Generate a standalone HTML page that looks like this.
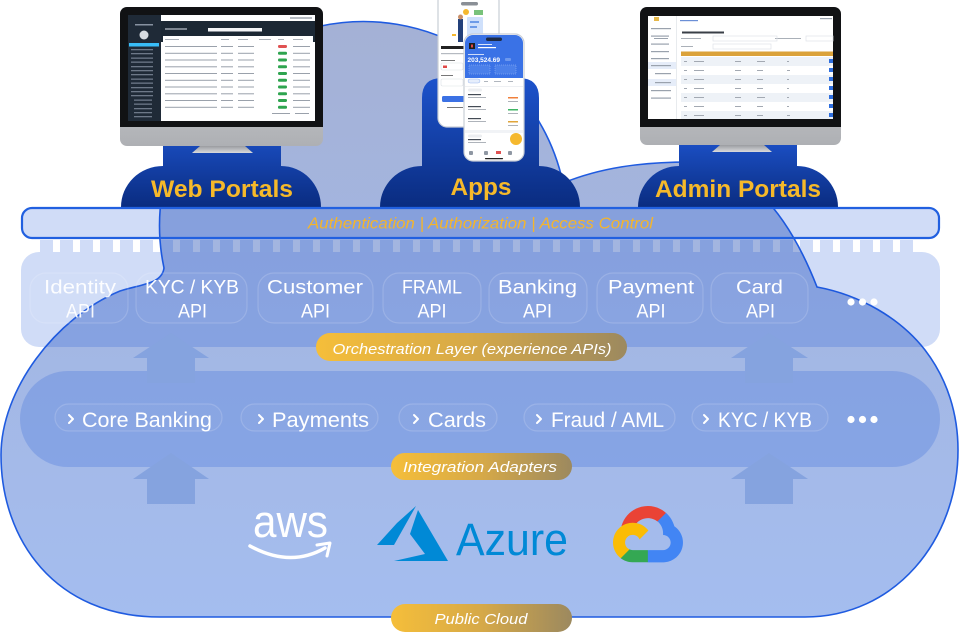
<!DOCTYPE html>
<html><head><meta charset="utf-8">
<style>
html,body{margin:0;padding:0;background:#fff;}
svg{display:block;}
text{font-family:"Liberation Sans",sans-serif;}
</style></head><body>
<svg width="960" height="632" viewBox="0 0 960 632" xmlns="http://www.w3.org/2000/svg">
<defs>
 <linearGradient id="cloudG" x1="0" y1="0" x2="0" y2="1">
  <stop offset="0" stop-color="#a4b1d5"/>
  <stop offset="0.45" stop-color="#a3b6e2"/>
  <stop offset="1" stop-color="#a4bdef"/>
 </linearGradient>
 <linearGradient id="navy" x1="0" y1="0" x2="0" y2="1">
  <stop offset="0" stop-color="#1d53cc"/>
  <stop offset="1" stop-color="#0a2c80"/>
 </linearGradient>
 <linearGradient id="gold" x1="0" y1="0" x2="1" y2="0">
  <stop offset="0" stop-color="#f5be3a"/>
  <stop offset="0.5" stop-color="#d6a948"/>
  <stop offset="1" stop-color="#9c895f"/>
 </linearGradient>
 <linearGradient id="chin" x1="0" y1="0" x2="0" y2="1">
  <stop offset="0" stop-color="#dcdde0"/>
  <stop offset="1" stop-color="#aeb0b4"/>
 </linearGradient>
 <linearGradient id="stand" x1="0" y1="0" x2="0" y2="1">
  <stop offset="0" stop-color="#9a9ca0"/>
  <stop offset="1" stop-color="#d8d9dc"/>
 </linearGradient>
 <pattern id="dash" x="40" y="0" width="20" height="20" patternUnits="userSpaceOnUse">
  <rect x="0" y="0" width="13" height="20" fill="rgb(20,80,215)" fill-opacity="0.2"/>
 </pattern>
</defs>

<!-- big cloud -->
<path d="M164,268 A202,202 0 0 1 563,183 C600,168 640,162 690,162 C740,162 785,205 817,287 C860,295 900,318 925,350 C948,380 958,415 958,450 C958,540 895,617 805,617 L160,617 C55,617 1,540 1,455 C1,390 55,318 120,291 C142,284 162,284 164,268 Z" fill="url(#cloudG)" stroke="#1f5be0" stroke-width="1.6"/>

<!-- dark clouds -->
<path d="M121,207 A42,41 0 0 1 163,166 L163,125 L281,125 L281,166 A40,41 0 0 1 321,207 Z" fill="url(#navy)"/>
<path d="M380,207 A42,41 0 0 1 422,166 L422,98 Q422,78 442,78 L519,78 Q539,78 539,98 L539,166 A41,41 0 0 1 580,207 Z" fill="url(#navy)"/>
<path d="M638,207 A41,41 0 0 1 679,166 L679,135 L797,135 L797,166 A41,41 0 0 1 838,207 Z" fill="url(#navy)"/>

<text x="222" y="197" font-size="24.5" font-weight="bold" fill="#f6b92a" text-anchor="middle" textLength="142" lengthAdjust="spacingAndGlyphs">Web Portals</text>
<text x="481" y="195" font-size="24.5" font-weight="bold" fill="#f6b92a" text-anchor="middle" textLength="61" lengthAdjust="spacingAndGlyphs">Apps</text>
<text x="738" y="197" font-size="24.5" font-weight="bold" fill="#f6b92a" text-anchor="middle" textLength="166" lengthAdjust="spacingAndGlyphs">Admin Portals</text>

<!-- Web monitor -->
<rect x="120" y="7" width="203" height="139" rx="7" fill="url(#chin)"/>
<path d="M127,7 H316 A7,7 0 0 1 323,14 V127 H120 V14 A7,7 0 0 1 127,7 Z" fill="#111214"/>
<polygon points="200,146 245,146 253,153 192,153" fill="url(#stand)"/>
<rect x="128" y="15" width="187" height="106" fill="#fff"/>
<rect x="128" y="15" width="33" height="106" fill="#1f2a37"/>
<rect x="161" y="21" width="154" height="21" fill="#1c2834"/>
<rect x="290" y="17" width="22" height="2" fill="#b8bcc2"/>
<rect x="165" y="28" width="22" height="2" fill="#7d8691"/>
<rect x="208" y="28" width="54" height="3.5" fill="#f4f5f7"/>
<rect x="163" y="36" width="150" height="84" fill="#fff"/>
<circle cx="144" cy="35" r="4.5" fill="#d8dce2"/>
<rect x="135" y="24" width="18" height="1.5" fill="#8791a0"/>
<rect x="129" y="43" width="30" height="3.5" fill="#38bdf8"/>
<g fill="#6d7888">
 <rect x="131" y="49" width="22" height="1.3"/><rect x="131" y="53" width="22" height="1.3"/>
 <rect x="131" y="57.5" width="22" height="1.3"/><rect x="131" y="61.5" width="22" height="1.3"/>
 <rect x="131" y="66" width="22" height="1.3"/><rect x="131" y="70" width="22" height="1.3"/>
 <rect x="131" y="74" width="22" height="1.3"/><rect x="131" y="78.5" width="22" height="1.3"/>
 <rect x="131" y="82.5" width="22" height="1.3"/><rect x="131" y="87" width="22" height="1.3"/>
 <rect x="131" y="91" width="22" height="1.3"/><rect x="131" y="95" width="22" height="1.3"/>
 <rect x="134" y="99.5" width="18" height="1.3"/><rect x="134" y="103.5" width="18" height="1.3"/>
 <rect x="134" y="108" width="18" height="1.3"/><rect x="134" y="112" width="18" height="1.3"/>
 <rect x="134" y="116" width="18" height="1.3"/>
</g>
<g fill="#aab0b8">
 <rect x="165" y="39" width="14" height="1"/><rect x="221" y="39" width="8" height="1"/><rect x="238" y="39" width="10" height="1"/><rect x="259" y="39" width="12" height="1"/><rect x="278" y="39" width="6" height="1"/><rect x="293" y="39" width="10" height="1"/>
</g>
<g fill="#9aa1ab">
 <rect x="165" y="46" width="52" height="1"/><rect x="165" y="52.8" width="52" height="1"/><rect x="165" y="59.5" width="52" height="1"/><rect x="165" y="66.3" width="52" height="1"/><rect x="165" y="73" width="52" height="1"/><rect x="165" y="79.8" width="52" height="1"/><rect x="165" y="86.5" width="52" height="1"/><rect x="165" y="93.3" width="52" height="1"/><rect x="165" y="100" width="52" height="1"/><rect x="165" y="106.8" width="52" height="1"/>
 <rect x="221" y="46" width="12" height="1"/><rect x="221" y="52.8" width="12" height="1"/><rect x="221" y="59.5" width="12" height="1"/><rect x="221" y="66.3" width="12" height="1"/><rect x="221" y="73" width="12" height="1"/><rect x="221" y="79.8" width="12" height="1"/><rect x="221" y="86.5" width="12" height="1"/><rect x="221" y="93.3" width="12" height="1"/><rect x="221" y="100" width="12" height="1"/><rect x="221" y="106.8" width="12" height="1"/>
 <rect x="238" y="46" width="16" height="1"/><rect x="238" y="52.8" width="16" height="1"/><rect x="238" y="59.5" width="16" height="1"/><rect x="238" y="66.3" width="16" height="1"/><rect x="238" y="73" width="16" height="1"/><rect x="238" y="79.8" width="16" height="1"/><rect x="238" y="86.5" width="16" height="1"/><rect x="238" y="93.3" width="16" height="1"/><rect x="238" y="100" width="16" height="1"/><rect x="238" y="106.8" width="16" height="1"/>
 <rect x="293" y="46" width="17" height="1"/><rect x="293" y="52.8" width="17" height="1"/><rect x="293" y="59.5" width="17" height="1"/><rect x="293" y="66.3" width="17" height="1"/><rect x="293" y="73" width="17" height="1"/><rect x="293" y="79.8" width="17" height="1"/><rect x="293" y="86.5" width="17" height="1"/><rect x="293" y="93.3" width="17" height="1"/><rect x="293" y="100" width="17" height="1"/><rect x="293" y="106.8" width="17" height="1"/>
 <rect x="272" y="113" width="18" height="1"/><rect x="295" y="113" width="14" height="1"/>
</g>
<rect x="278" y="45" width="9" height="3" rx="1.2" fill="#e05252"/>
<g fill="#2ea44f">
 <rect x="278" y="51.8" width="9" height="3" rx="1.2"/><rect x="278" y="58.5" width="9" height="3" rx="1.2"/><rect x="278" y="65.3" width="9" height="3" rx="1.2"/><rect x="278" y="72" width="9" height="3" rx="1.2"/><rect x="278" y="78.8" width="9" height="3" rx="1.2"/><rect x="278" y="85.5" width="9" height="3" rx="1.2"/><rect x="278" y="92.3" width="9" height="3" rx="1.2"/><rect x="278" y="99" width="9" height="3" rx="1.2"/><rect x="278" y="105.8" width="9" height="3" rx="1.2"/>
</g>

<!-- Admin monitor -->
<rect x="640" y="7" width="201" height="138" rx="7" fill="url(#chin)"/>
<path d="M647,7 H834 A7,7 0 0 1 841,14 V127 H640 V14 A7,7 0 0 1 647,7 Z" fill="#111214"/>
<polygon points="720,145 764,145 772,152 712,152" fill="url(#stand)"/>
<rect x="648" y="16" width="185" height="103" fill="#fff"/>
<rect x="676" y="16" width="0.8" height="103" fill="#e3e6ea"/>
<rect x="654" y="17" width="5" height="4" fill="#e6b84a"/>
<rect x="648" y="62" width="28" height="7" fill="#e6edf9"/>
<rect x="648" y="79" width="28" height="7" fill="#e6edf9"/>
<g fill="#9aa2ad">
 <rect x="651" y="28" width="20" height="1.2"/><rect x="651" y="35.5" width="18" height="1.2"/><rect x="654" y="38" width="14" height="1"/>
 <rect x="651" y="43.5" width="18" height="1.2"/><rect x="651" y="51" width="18" height="1.2"/><rect x="651" y="58" width="18" height="1.2"/>
 <rect x="651" y="65" width="20" height="1.2"/><rect x="655" y="73" width="16" height="1.2"/><rect x="655" y="82" width="16" height="1.2"/>
 <rect x="651" y="90" width="20" height="1.2"/><rect x="651" y="97.5" width="20" height="1.2"/>
</g>
<rect x="680" y="20" width="18" height="1.2" fill="#6b8fd6"/>
<rect x="820" y="18" width="12" height="1.2" fill="#9aa2ad"/>
<rect x="682" y="31.5" width="42" height="2" fill="#3a3f47"/>
<g fill="#aab0b8">
 <rect x="681" y="38" width="20" height="1"/><rect x="681" y="46" width="12" height="1"/><rect x="775" y="38" width="26" height="1"/>
</g>
<g fill="none" stroke="#dfe3e8" stroke-width="0.7">
 <rect x="713" y="36" width="64" height="5"/><rect x="713" y="44" width="58" height="5"/><rect x="806" y="36" width="27" height="5"/>
</g>
<rect x="681" y="51.5" width="152" height="4.5" fill="#dba23a"/>
<g fill="#eef2f7">
 <rect x="681" y="57" width="152" height="9"/><rect x="681" y="75" width="152" height="9"/><rect x="681" y="93" width="152" height="9"/><rect x="681" y="111" width="152" height="8"/>
</g>
<g fill="#a3a9b2">
 <rect x="684" y="61" width="3" height="1"/><rect x="694" y="61" width="10" height="1"/><rect x="735" y="61" width="6" height="1"/><rect x="757" y="61" width="8" height="1"/><rect x="787" y="61" width="2" height="1"/>
 <rect x="684" y="70" width="3" height="1"/><rect x="694" y="70" width="10" height="1"/><rect x="735" y="70" width="6" height="1"/><rect x="757" y="70" width="6" height="1"/><rect x="787" y="70" width="3" height="1"/>
 <rect x="684" y="79" width="3" height="1"/><rect x="694" y="79" width="10" height="1"/><rect x="735" y="79" width="6" height="1"/><rect x="757" y="79" width="6" height="1"/><rect x="787" y="79" width="2" height="1"/>
 <rect x="684" y="88" width="3" height="1"/><rect x="694" y="88" width="10" height="1"/><rect x="735" y="88" width="6" height="1"/><rect x="757" y="88" width="6" height="1"/><rect x="787" y="88" width="2" height="1"/>
 <rect x="684" y="97" width="3" height="1"/><rect x="694" y="97" width="10" height="1"/><rect x="735" y="97" width="6" height="1"/><rect x="757" y="97" width="8" height="1"/><rect x="787" y="97" width="2" height="1"/>
 <rect x="684" y="106" width="3" height="1"/><rect x="694" y="106" width="10" height="1"/><rect x="735" y="106" width="6" height="1"/><rect x="757" y="106" width="6" height="1"/><rect x="787" y="106" width="2" height="1"/>
 <rect x="684" y="115" width="3" height="1"/><rect x="694" y="115" width="10" height="1"/><rect x="735" y="115" width="6" height="1"/><rect x="757" y="115" width="6" height="1"/><rect x="787" y="115" width="3" height="1"/>
</g>
<g fill="#2f6fdf">
 <rect x="829" y="59" width="4" height="4"/><rect x="829" y="68" width="4" height="4"/><rect x="829" y="77" width="4" height="4"/><rect x="829" y="86" width="4" height="4"/><rect x="829" y="95" width="4" height="4"/><rect x="829" y="104" width="4" height="4"/><rect x="829" y="113" width="4" height="4"/>
</g>

<!-- Back phone -->
<rect x="438" y="-8" width="61" height="135" rx="9" fill="#fff" stroke="#c9ced6" stroke-width="1.2"/>
<rect x="461" y="2" width="17" height="3.5" rx="1.7" fill="#8a8f96"/>
<circle cx="466" cy="12" r="3" fill="#f5b82e"/>
<rect x="474" y="10" width="9" height="5" fill="#78c27a"/>
<rect x="467" y="17" width="16" height="19" rx="1" fill="#cfe0fb"/>
<rect x="470" y="21" width="9" height="2" fill="#6d9be8"/>
<rect x="470" y="26" width="7" height="2" fill="#6d9be8"/>
<rect x="458" y="19" width="5" height="23" fill="#23407a"/>
<circle cx="460.5" cy="17" r="2.5" fill="#c98f68"/>
<rect x="452" y="34" width="4" height="2" fill="#f5b82e"/>
<rect x="441" y="46" width="24" height="3" fill="#222"/>
<rect x="441" y="53" width="28" height="1.2" fill="#b5bac1"/>
<rect x="441" y="60" width="14" height="1" fill="#777"/>
<rect x="441" y="63" width="22" height="7" rx="1.5" fill="#fff" stroke="#dde1e6" stroke-width="0.6"/>
<rect x="443" y="65.5" width="4" height="2.5" fill="#e04848"/>
<rect x="441" y="75" width="12" height="1" fill="#777"/>
<rect x="441" y="79" width="22" height="7" rx="1.5" fill="#fff" stroke="#dde1e6" stroke-width="0.6"/>
<rect x="442" y="96" width="55" height="6" rx="1.5" fill="#3b71e4"/>
<rect x="447" y="107" width="16" height="1" fill="#777"/>

<!-- Front phone -->
<rect x="464" y="34" width="60" height="127" rx="9" fill="#fff" stroke="#c9ced6" stroke-width="1.2"/>
<path d="M473,35 H515 A8,8 0 0 1 523,43 V80 H465 V43 A8,8 0 0 1 473,35 Z" fill="#3a72e6"/>
<rect x="486" y="37.5" width="16" height="3.5" rx="1.7" fill="#1d2a44"/>
<rect x="469" y="43" width="6" height="6" fill="#1d1d1d"/>
<rect x="471" y="44.5" width="2" height="3" fill="#e04848"/>
<rect x="478" y="44" width="14" height="1" fill="#dbe6fb"/>
<rect x="478" y="47" width="18" height="1.2" fill="#fff"/>
<rect x="468" y="54" width="16" height="1" fill="#cfdcf8"/>
<text x="467.5" y="62" font-size="6.5" font-weight="bold" fill="#fff">203,524.69</text>
<rect x="505" y="58" width="6" height="3" rx="1" fill="#6d98ee"/>
<rect x="469" y="65" width="21" height="9" fill="#4b80ea" stroke="#9fbcf5" stroke-width="0.5" stroke-dasharray="1,1"/>
<rect x="495" y="65" width="21" height="9" fill="#4b80ea" stroke="#9fbcf5" stroke-width="0.5" stroke-dasharray="1,1"/>
<rect x="465" y="78" width="58" height="7" fill="#fff"/>
<rect x="468" y="79" width="12" height="4" rx="2" fill="#e6eefc" stroke="#9ab7f0" stroke-width="0.5"/>
<g fill="#b0b6be"><rect x="484" y="81" width="4" height="1"/><rect x="494" y="81" width="7" height="1"/><rect x="508" y="81" width="5" height="1"/></g>
<rect x="465" y="86" width="58" height="1" fill="#eef0f3"/>
<rect x="468" y="88.5" width="14" height="3" rx="1.5" fill="#eceef1"/>
<g fill="#444b55">
 <rect x="468" y="94" width="13" height="1.2"/><rect x="468" y="106" width="13" height="1.2"/><rect x="468" y="118" width="13" height="1.2"/><rect x="468" y="139" width="13" height="1.2"/>
</g>
<g fill="#a5abb3">
 <rect x="468" y="97" width="18" height="0.9"/><rect x="468" y="109" width="18" height="0.9"/><rect x="468" y="121" width="18" height="0.9"/><rect x="468" y="142" width="18" height="0.9"/>
 <rect x="508" y="101" width="10" height="0.9"/><rect x="508" y="113" width="10" height="0.9"/><rect x="508" y="125" width="10" height="0.9"/>
</g>
<rect x="508" y="97" width="10" height="1.5" fill="#f0803c"/>
<rect x="508" y="109" width="10" height="1.5" fill="#3fb565"/>
<rect x="508" y="121" width="10" height="1.5" fill="#e0a53a"/>
<rect x="465" y="130" width="58" height="3" fill="#f1f3f6"/>
<rect x="468" y="134.5" width="14" height="3" rx="1.5" fill="#eceef1"/>
<circle cx="516" cy="139" r="6" fill="#f5b82e"/>
<g fill="#8f97a3"><rect x="469" y="151" width="4" height="4" rx="1"/><rect x="484" y="151" width="4" height="4" rx="1"/><rect x="508" y="151" width="4" height="4" rx="1"/></g>
<rect x="496" y="151" width="5" height="3" fill="#e05252"/>
<rect x="485" y="158" width="18" height="1.2" rx="0.6" fill="#222"/>

<!-- auth bar -->
<rect x="22" y="208" width="917" height="30" rx="10" fill="rgb(20,80,215)" fill-opacity="0.2" stroke="#2160e0" stroke-width="2.2"/>
<text x="308" y="228.5" font-size="16" font-style="italic" fill="#f4b52c" textLength="345" lengthAdjust="spacingAndGlyphs">Authentication | Authorization | Access Control</text>

<!-- dashed strip -->
<rect x="40" y="240" width="880" height="12" fill="url(#dash)"/>

<!-- API panel -->
<rect x="21" y="252" width="919" height="95" rx="18" fill="rgb(20,80,215)" fill-opacity="0.2"/>

<!-- Adapter panel -->
<rect x="20" y="371" width="920" height="96" rx="48" fill="rgb(20,80,215)" fill-opacity="0.2"/>

<!-- arrows -->
<g fill="#85a3df">
 <polygon points="171,333 209,358 195,358 195,383 147,383 147,358 133,358"/>
 <polygon points="769,333 808,358 793,358 793,383 745,383 745,358 731,358"/>
 <polygon points="171,453 209,479 195,479 195,504 147,504 147,479 133,479"/>
 <polygon points="769,453 808,479 793,479 793,504 745,504 745,479 731,479"/>
</g>

<!-- API boxes -->
<g fill="#ffffff" fill-opacity="0.03" stroke="#ffffff" stroke-opacity="0.16" stroke-width="1.2">
 <rect x="30" y="273" width="98" height="50" rx="16"/>
 <rect x="136" y="273" width="111" height="50" rx="16"/>
 <rect x="258" y="273" width="115" height="50" rx="16"/>
 <rect x="383" y="273" width="98" height="50" rx="16"/>
 <rect x="489" y="273" width="98" height="50" rx="16"/>
 <rect x="597" y="273" width="106" height="50" rx="16"/>
 <rect x="711" y="273" width="97" height="50" rx="16"/>
</g>
<g font-size="19.5" fill="#ffffff" text-anchor="middle">
 <text x="80" y="293.5" textLength="72" lengthAdjust="spacingAndGlyphs" fill-opacity="0.92">Identity</text>
 <text x="80.5" y="317.5" textLength="29" lengthAdjust="spacingAndGlyphs" fill-opacity="0.92">API</text>
 <text x="192" y="293.5" textLength="94" lengthAdjust="spacingAndGlyphs">KYC / KYB</text>
 <text x="192.5" y="317.5" textLength="29" lengthAdjust="spacingAndGlyphs">API</text>
 <text x="315" y="293.5" textLength="96" lengthAdjust="spacingAndGlyphs">Customer</text>
 <text x="315.5" y="317.5" textLength="29" lengthAdjust="spacingAndGlyphs">API</text>
 <text x="432" y="293.5" textLength="60" lengthAdjust="spacingAndGlyphs">FRAML</text>
 <text x="432" y="317.5" textLength="29" lengthAdjust="spacingAndGlyphs">API</text>
 <text x="537.5" y="293.5" textLength="79" lengthAdjust="spacingAndGlyphs">Banking</text>
 <text x="537.5" y="317.5" textLength="29" lengthAdjust="spacingAndGlyphs">API</text>
 <text x="651" y="293.5" textLength="86" lengthAdjust="spacingAndGlyphs">Payment</text>
 <text x="651" y="317.5" textLength="29" lengthAdjust="spacingAndGlyphs">API</text>
 <text x="759.5" y="293.5" textLength="47" lengthAdjust="spacingAndGlyphs">Card</text>
 <text x="760.5" y="317.5" textLength="29" lengthAdjust="spacingAndGlyphs">API</text>
</g>
<g fill="#fff">
 <circle cx="851" cy="302" r="3.6"/><circle cx="862.5" cy="302" r="3.6"/><circle cx="874" cy="302" r="3.6"/>
 <circle cx="851" cy="419.5" r="3.6"/><circle cx="862.5" cy="419.5" r="3.6"/><circle cx="874" cy="419.5" r="3.6"/>
</g>

<!-- adapter boxes -->
<g fill="#ffffff" fill-opacity="0.03" stroke="#ffffff" stroke-opacity="0.16" stroke-width="1.2">
 <rect x="55" y="404" width="167" height="27" rx="13.5"/>
 <rect x="241" y="404" width="137" height="27" rx="13.5"/>
 <rect x="399" y="404" width="98" height="27" rx="13.5"/>
 <rect x="524" y="404" width="151" height="27" rx="13.5"/>
 <rect x="692" y="404" width="136" height="27" rx="13.5"/>
</g>
<g fill="none" stroke="#fff" stroke-width="2" stroke-linecap="round" stroke-linejoin="round">
 <polyline points="69,415 73,419 69,423"/>
 <polyline points="259,415 263,419 259,423"/>
 <polyline points="414,415 418,419 414,423"/>
 <polyline points="537,415 541,419 537,423"/>
 <polyline points="704,415 708,419 704,423"/>
</g>
<g font-size="21.5" fill="#ffffff">
 <text x="82" y="427" textLength="130" lengthAdjust="spacingAndGlyphs">Core Banking</text>
 <text x="272" y="427" textLength="97" lengthAdjust="spacingAndGlyphs">Payments</text>
 <text x="428" y="427" textLength="58" lengthAdjust="spacingAndGlyphs">Cards</text>
 <text x="551" y="427" textLength="113" lengthAdjust="spacingAndGlyphs">Fraud / AML</text>
 <text x="718" y="427" textLength="94" lengthAdjust="spacingAndGlyphs">KYC / KYB</text>
</g>

<!-- gold pills -->
<rect x="316" y="333" width="311" height="28" rx="14" fill="url(#gold)"/>
<text x="472" y="354" font-size="15" font-style="italic" fill="#fff" text-anchor="middle" textLength="279" lengthAdjust="spacingAndGlyphs">Orchestration Layer (experience APIs)</text>
<rect x="391" y="453" width="181" height="27" rx="13.5" fill="url(#gold)"/>
<text x="480" y="472" font-size="14.5" font-style="italic" fill="#fff" text-anchor="middle" textLength="154" lengthAdjust="spacingAndGlyphs">Integration Adapters</text>
<rect x="391" y="604" width="181" height="28" rx="14" fill="url(#gold)"/>
<text x="481" y="624" font-size="14.5" font-style="italic" fill="#fff" text-anchor="middle" textLength="93" lengthAdjust="spacingAndGlyphs">Public Cloud</text>

<!-- AWS -->
<text x="253" y="537" font-size="45" fill="#fff" textLength="75" lengthAdjust="spacingAndGlyphs">aws</text>
<path d="M250,546 Q290,568 325,548" fill="none" stroke="#fff" stroke-width="3.5" stroke-linecap="round"/>
<path d="M317,545 L330,543 L327,556" fill="none" stroke="#fff" stroke-width="3" stroke-linecap="round" stroke-linejoin="round"/>

<!-- Azure -->
<polygon points="377,545 397,523 416,506 394,545" fill="#0089d6"/>
<polygon points="418,510 448,561 394,561 425,554 410,534" fill="#0089d6"/>
<text x="456" y="555" font-size="45" fill="#0089d6" textLength="112" lengthAdjust="spacingAndGlyphs">Azure</text>

<!-- Google Cloud -->
<g transform="translate(613,506) scale(0.02934)">
 <path fill="#ea4335" d="M1513.8 528.7h72.8l207.4-207.4 10.2-88c-385.9-340.6-975-303.9-1315.6 82C393.9 422.5 325.2 550 287.8 688c23.1-9.5 48.7-11 72.8-4.4l414.7-68.4s21.1-34.9 32-32.7c184.5-202.6 495-226.2 708.1-53.8h-1.6z"/>
 <path fill="#4285f4" d="M2089.4 688c-47.7-175.5-145.5-333.3-281.6-454l-291 291c122.9 100.4 192.9 251.7 189.9 410.4v51.7c143.1 0 259 116 259 259 0 143.1-116 259-259 259h-518.1l-51.7 52.4v310.7l51.7 51.7h518.1c297 2.3 560.5-190.2 648.7-473.8 88-283.7-18.7-591.7-265.4-757.6z"/>
 <path fill="#34a853" d="M669.8 1917h518.1v-414.7H669.8c-36.9 0-73.4-7.9-107-23.3l-72.8 22.5-208.8 207.4-18.2 72.8c117.1 88.4 260 138.7 406.8 135.3z"/>
 <path fill="#fbbc05" d="M669.8 571.7c-287.8 1.7-542.7 186-634.5 458.7-91.8 272.7-.3 573.7 227.8 749.6l300.5-300.5c-130.4-58.9-188.3-212.3-129.4-342.7 58.9-130.4 212.3-188.3 342.7-129.4 57.4 26 103.4 72 129.4 129.4l300.5-300.5c-127.9-167.1-326.6-264.8-537-264z"/>
</g>
</svg>
</body></html>
